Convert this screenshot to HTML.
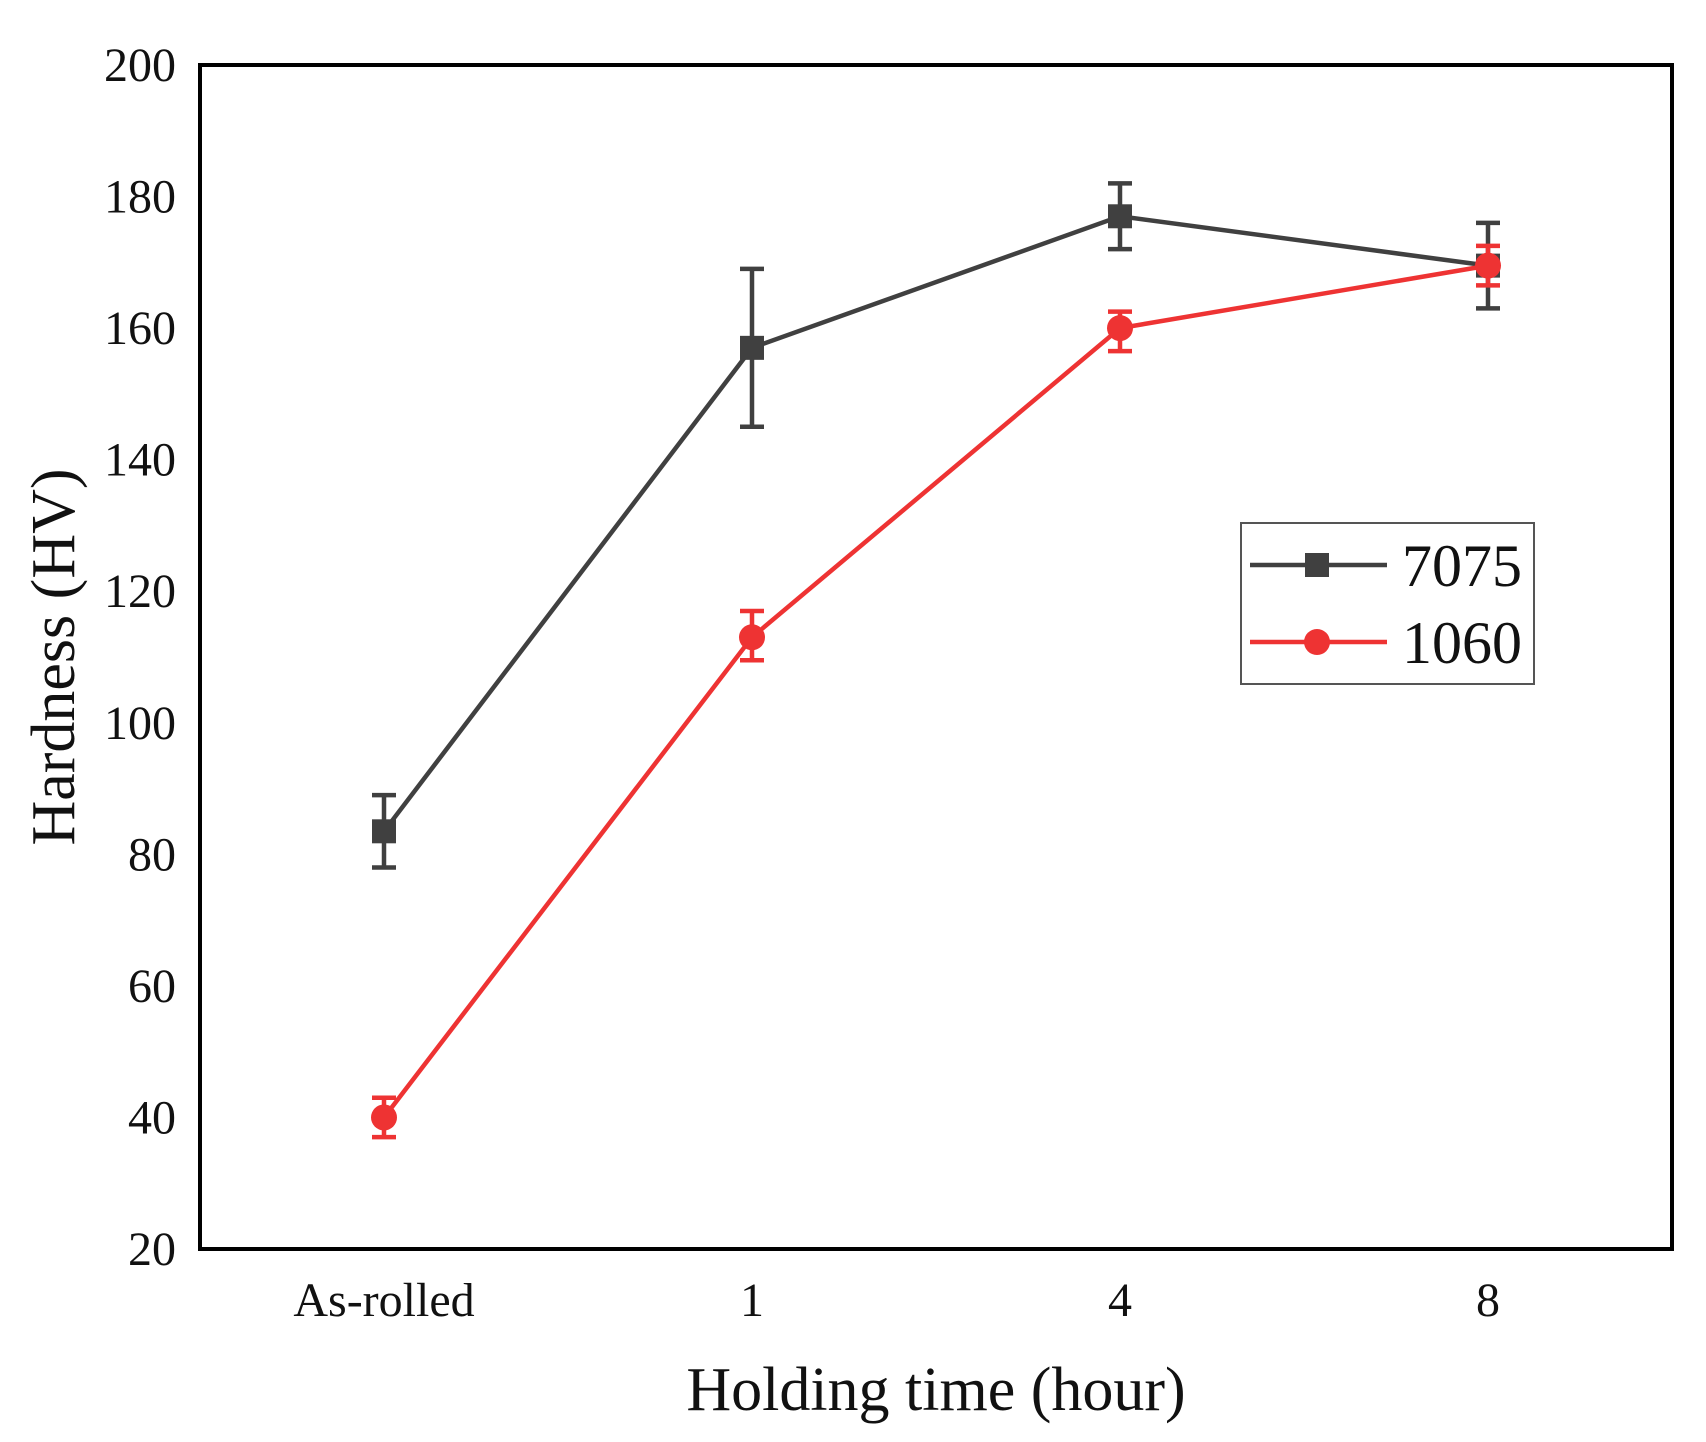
<!DOCTYPE html>
<html><head><meta charset="utf-8"><style>
html,body{margin:0;padding:0;background:#fff;}
svg text{font-family:"Liberation Serif",serif;fill:#111;}
</style></head><body>
<svg id="chart" width="1706" height="1437" viewBox="0 0 1706 1437" xmlns="http://www.w3.org/2000/svg">
<rect x="200" y="65" width="1472" height="1184" fill="#fff" stroke="#000" stroke-width="4"/>
<g id="yt"></g>
<g id="xt"></g>
<g id="series"></g>
<text x="936" y="1410" font-size="62" text-anchor="middle">Holding time (hour)</text>
<text transform="translate(74,657) rotate(-90)" font-size="62" text-anchor="middle">Hardness (HV)</text>
<g>
<rect x="1241" y="523" width="293" height="161" fill="#fff" stroke="#555" stroke-width="2"/>
<g>
<line x1="1250" y1="565" x2="1387" y2="565" stroke="#404040" stroke-width="4.5"/>
<rect x="1305" y="553" width="24" height="24" fill="#404040"/>
<text x="1402" y="586" font-size="60">7075</text></g>
<g>
<line x1="1250" y1="642" x2="1387" y2="642" stroke="#ee3333" stroke-width="4.5"/>
<circle cx="1317" cy="642" r="13" fill="#ee3333"/>
<text x="1402" y="663" font-size="60">1060</text></g>
</g>
</svg>
<script>
const categories=["As-rolled","1","4","8"];
const yTicks=[20,40,60,80,100,120,140,160,180,200];
const s7075=[83.5,157,177,169.5];
const e7075lo=[78,145,172,163];
const e7075hi=[89,169,182,176];
const s1060=[40,113,160,169.5];
const e1060lo=[37,109.5,156.5,166.5];
const e1060hi=[43,117,162.5,172.5];

const NS="http://www.w3.org/2000/svg";
const X0=200,X1=1672,Y0=1249,Y1=65;
const xs=i=>X0+(i+0.5)*(X1-X0)/categories.length;
const ys=v=>Y0-(v-20)/(200-20)*(Y0-Y1);
function mk(t,a,p){const e=document.createElementNS(NS,t);for(const k in a)e.setAttribute(k,a[k]);p.appendChild(e);return e;}
const yt=document.getElementById('yt'),xt=document.getElementById('xt'),sg=document.getElementById('series');
yTicks.forEach(v=>{const t=mk('text',{x:176,y:ys(v)+16,'font-size':48,'text-anchor':'end'},yt);t.textContent=v;

});
categories.forEach((c,i)=>{const t=mk('text',{x:xs(i),y:1316,'font-size':48,'text-anchor':'middle'},xt);t.textContent=c;

});
function series(vals,lo,hi,col,shape,name){
const g=mk('g',{},sg);


mk('polyline',{points:vals.map((v,i)=>xs(i)+','+ys(v)).join(' '),fill:'none',stroke:col,'stroke-width':4.5},g);
vals.forEach((v,i)=>{const x=xs(i);
const eb=mk('path',{d:`M${x},${ys(lo[i])}V${ys(hi[i])}M${x-12},${ys(lo[i])}H${x+12}M${x-12},${ys(hi[i])}H${x+12}`,stroke:col,'stroke-width':4.5,fill:'none'},g);


let m;
if(shape==='sq')m=mk('rect',{x:x-12,y:ys(v)-12,width:24,height:24,fill:col},g);
else m=mk('circle',{cx:x,cy:ys(v),r:13,fill:col},g);

});}
series(s7075,e7075lo,e7075hi,'#404040','sq','series-7075');
series(s1060,e1060lo,e1060hi,'#ee3333','ci','series-1060');
</script>
</body></html>
